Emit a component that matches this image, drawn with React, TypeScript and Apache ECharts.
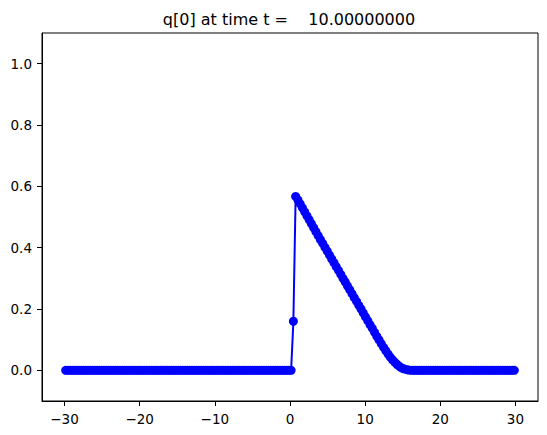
import React, { useEffect, useRef } from "react";
import * as echarts from "echarts";

// Grid of cell centres (200 cells on [-30, 30])
const xLower = -30;
const xUpper = 30;
const numCells = 200;

// q[0] values, one per cell, left to right
const qLeft = [
  0, 0, 0, 0, 0, 0, 0, 0, 0, 0, 0, 0, 0, 0, 0, 0, 0, 0, 0, 0,
  0, 0, 0, 0, 0, 0, 0, 0, 0, 0, 0, 0, 0, 0, 0, 0, 0, 0, 0, 0,
  0, 0, 0, 0, 0, 0, 0, 0, 0, 0, 0, 0, 0, 0, 0, 0, 0, 0, 0, 0,
  0, 0, 0, 0, 0, 0, 0, 0, 0, 0, 0, 0, 0, 0, 0, 0, 0, 0, 0, 0,
  0, 0, 0, 0, 0, 0, 0, 0, 0, 0, 0, 0, 0, 0, 0, 0, 0, 0, 0, 0,
  0,
];
const qPulse = [
  0.16,
  0.567, 0.556, 0.543, 0.530, 0.517, 0.504, 0.491, 0.478, 0.465, 0.452,
  0.439, 0.426, 0.414, 0.401, 0.389, 0.376, 0.363, 0.351, 0.338, 0.326,
  0.313, 0.300, 0.288, 0.275, 0.263, 0.250, 0.237, 0.225, 0.212, 0.200,
  0.187, 0.174, 0.162, 0.149, 0.137, 0.124, 0.111, 0.099, 0.087, 0.075,
  0.064, 0.053, 0.043, 0.034, 0.026, 0.019, 0.013, 0.008, 0.005, 0.003,
  0.001, 0.0005,
];
const qRight = [
  0, 0, 0, 0, 0, 0, 0, 0, 0, 0, 0, 0, 0, 0, 0, 0, 0, 0, 0, 0,
  0, 0, 0, 0, 0, 0, 0, 0, 0, 0, 0, 0, 0, 0, 0, 0, 0, 0, 0, 0,
  0, 0, 0, 0, 0, 0,
];

const xTicks = [-30, -20, -10, 0, 10, 20, 30];
const yTicks = [0, 0.2, 0.4, 0.6, 0.8, 1.0];
const titleText = "q[0] at time t =    10.00000000";

export default function App() {
  const ref = useRef<HTMLDivElement>(null);

  useEffect(() => {
    if (!ref.current) return;
    const chart = echarts.init(ref.current, undefined, { renderer: "svg" });
    const q = [...qLeft, ...qPulse, ...qRight];
    const dx = (xUpper - xLower) / numCells;
    const data = q.map((v, i) => [xLower + dx * (i + 0.5), v]);
    const font = "DejaVu Sans";
    const fmtX = (v: number) => (v < 0 ? "\u2212" + Math.abs(v) : String(v));

    chart.setOption({
      animation: false,
      backgroundColor: "#ffffff",
      textStyle: { fontFamily: font },
      grid: {
        left: 42,
        right: 9,
        top: 33,
        bottom: 34,
        show: true,
        borderColor: "#000000",
        borderWidth: 1,
        backgroundColor: "transparent",
      },
      graphic: [
        {
          type: "text",
          x: 289,
          y: 19,
          style: {
            text: titleText,
            fontFamily: font,
            fontSize: 16,
            fill: "#000000",
            textAlign: "center",
            textVerticalAlign: "middle",
            whiteSpace: "pre",
          },
        },
      ],
      xAxis: {
        type: "value",
        min: -33,
        max: 33,
        splitLine: { show: false },
        axisLine: { show: true, onZero: false, lineStyle: { color: "#000", width: 1 } },
        axisTick: {
          show: true,
          inside: false,
          length: 5,
          customValues: xTicks,
          lineStyle: { color: "#000", width: 1 },
        },
        axisLabel: {
          customValues: xTicks,
          formatter: (v: number) => fmtX(v),
          color: "#000",
          fontSize: 13.5,
          fontFamily: font,
          margin: 11,
        },
      },
      yAxis: {
        type: "value",
        min: -0.1,
        max: 1.1,
        splitLine: { show: false },
        axisLine: { show: true, onZero: false, lineStyle: { color: "#000", width: 1 } },
        axisTick: {
          show: true,
          inside: false,
          length: 5,
          customValues: yTicks,
          lineStyle: { color: "#000", width: 1 },
        },
        axisLabel: {
          customValues: yTicks,
          formatter: (v: number) => v.toFixed(1),
          color: "#000",
          fontSize: 13.5,
          fontFamily: font,
          margin: 10,
        },
      },
      series: [
        {
          type: "line",
          data,
          symbol: "circle",
          symbolSize: 9,
          showAllSymbol: true,
          lineStyle: { color: "#0000ff", width: 2 },
          itemStyle: { color: "#0000ff", borderWidth: 0 },
          emphasis: { disabled: true },
        },
      ],
    });
    return () => chart.dispose();
  }, []);

  return (
    <div
      ref={ref}
      style={{ position: "fixed", left: 0, top: 0, width: 547, height: 435 }}
    />
  );
}
